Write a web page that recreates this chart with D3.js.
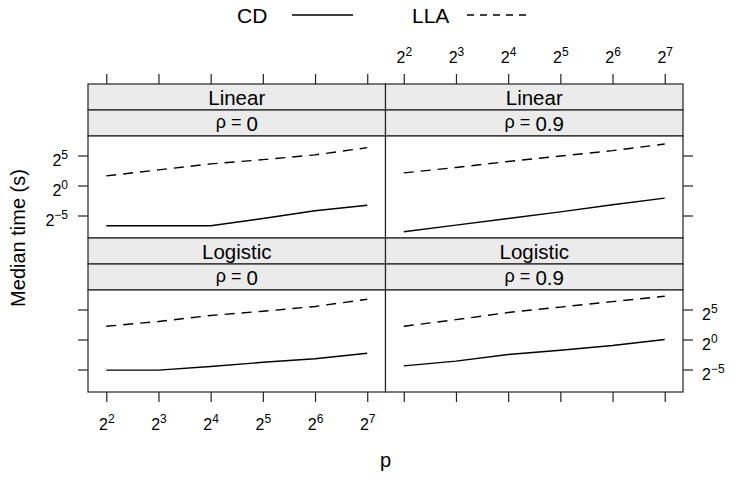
<!DOCTYPE html>
<html>
<head>
<meta charset="utf-8">
<script src="https://cdn.jsdelivr.net/npm/d3@7"></script>
<style>
body { margin: 0; background: #fff; }
text { font-family: "Liberation Sans", Arial, Helvetica, sans-serif; fill: #000; }
</style>
</head>
<body>
<div id="svg-container"></div>
<script>
// Data ------------------------------------------------------------------------------------------------------
const pValues = [4, 8, 16, 32, 64, 128];
const timeTicks = [1 / 32, 1, 32];
const methods = ["CD", "LLA"];
const panelModels = ["Linear", "Linear", "Logistic", "Logistic"];
const panelRhos = ["0", "0.9", "0", "0.9"];

// median time (s), one row per panel, in pValues order
const cdTimes = [
  [0.0096, 0.0096, 0.0096, 0.0221, 0.0544, 0.1015],
  [0.0048, 0.0103, 0.0221, 0.0474, 0.109, 0.233],
  [0.0292, 0.0292, 0.0442, 0.0718, 0.109, 0.203],
  [0.0474, 0.0825, 0.177, 0.287, 0.5, 1.0]
];
const llaTimes = [
  [3.03, 6.06, 12.1, 19.7, 34.3, 78.8],
  [4.29, 8.0, 16.0, 29.9, 55.7, 119.4],
  [4.59, 8.0, 16.0, 26.0, 45.3, 104],
  [4.59, 9.85, 22.6, 42.2, 78.8, 147]
];

// Graph Dimensions ------------------------------------------------------------------------------------------
const width = 734,
      height = 478;
const frame = {left: 88, right: 683, top: 84},
      stripH = 26,
      panelH = 102,
      panelW = (frame.right - frame.left) / 2,
      rowH = 2 * stripH + panelH;
const tickLen = 10;
const tickFont = 16, supFont = 12;

// SVG -------------------------------------------------------------------------------------------------------
const svg = d3.select("#svg-container")
.append("svg")
.attr("width", width)
.attr("height", height);

// Scales ----------------------------------------------------------------------------------------------------
const padLog = (lo, hi) => {
  const a = Math.log2(lo), b = Math.log2(hi), p = (b - a) * 0.07;
  return [Math.pow(2, a - p), Math.pow(2, b + p)];
};

const x = d3.scaleLog().base(2)
.domain(padLog(d3.min(pValues), d3.max(pValues)))
.range([0, panelW]);

const allTimes = cdTimes.flat().concat(llaTimes.flat());
const y = d3.scaleLog().base(2)
.domain(padLog(d3.min(allTimes), d3.max(allTimes)))
.range([panelH, 0]);

// 2^k style tick labels
const powerLabel = (sel, yOff) => {
  sel.text(null).attr("dy", null).attr("y", yOff).attr("font-size", tickFont).each(function(d) {
    const e = Math.round(Math.log2(d));
    const t = d3.select(this);
    t.append("tspan").text("2");
    t.append("tspan").attr("font-size", supFont).attr("dy", -7).text(String(e).replace("-", "\u2212"));
  });
};

const line = d3.line()
.x((d, i) => x(pValues[i]))
.y(d => y(d));

// Panels ----------------------------------------------------------------------------------------------------
panelModels.forEach((model, k) => {
  const col = k % 2, row = Math.floor(k / 2);
  const left = frame.left + col * panelW;
  const top = frame.top + row * rowH;
  const pTop = top + 2 * stripH;

  // strips
  [model, null].forEach((lab, s) => {
    const sg = svg.append("g").attr("transform", `translate(${left},${top + s * stripH})`);
    sg.append("rect")
    .attr("width", panelW).attr("height", stripH)
    .attr("fill", "#ebebeb").attr("stroke", "#222").attr("stroke-width", 1.2);
    const t = sg.append("text")
    .attr("x", panelW / 2).attr("y", 21)
    .attr("text-anchor", "middle")
    .attr("font-size", 20.5);
    if (lab) t.text(lab);
    else {
      t.append("tspan").attr("font-size", 18).attr("dy", -3).text("\u03c1 = ");
      t.append("tspan").attr("dy", 3).text(panelRhos[k]);
    }
  });

  // panel body
  const g = svg.append("g").attr("transform", `translate(${left},${pTop})`);
  g.append("rect")
  .attr("width", panelW).attr("height", panelH)
  .attr("fill", "#fff").attr("stroke", "#222").attr("stroke-width", 1.2);

  g.append("path")
  .datum(cdTimes[k])
  .attr("d", line)
  .attr("fill", "none").attr("stroke", "#000").attr("stroke-width", 1.4);

  g.append("path")
  .datum(llaTimes[k])
  .attr("d", line)
  .attr("fill", "none").attr("stroke", "#000").attr("stroke-width", 1.4)
  .attr("stroke-dasharray", "10,7");

  // Axes ----------------------------------------------------------------------------------------------------
  if (row === 0) {
    const ax = svg.append("g")
    .attr("transform", `translate(${left},${top})`)
    .call(d3.axisTop(x).tickValues(pValues).tickSize(tickLen).tickSizeOuter(0));
    ax.select(".domain").remove();
    if (col === 1) powerLabel(ax.selectAll(".tick text"), -21);
    else ax.selectAll(".tick text").remove();
  } else {
    const ax = svg.append("g")
    .attr("transform", `translate(${left},${pTop + panelH})`)
    .call(d3.axisBottom(x).tickValues(pValues).tickSize(tickLen).tickSizeOuter(0));
    ax.select(".domain").remove();
    if (col === 0) powerLabel(ax.selectAll(".tick text"), 38);
    else ax.selectAll(".tick text").remove();
  }

  if (col === 0) {
    const ay = svg.append("g")
    .attr("transform", `translate(${left},${pTop})`)
    .call(d3.axisLeft(y).tickValues(timeTicks).tickSize(tickLen).tickSizeOuter(0));
    ay.select(".domain").remove();
    if (row === 0) powerLabel(ay.selectAll(".tick text").attr("x", -20), 10);
    else ay.selectAll(".tick text").remove();
  } else {
    const ay = svg.append("g")
    .attr("transform", `translate(${left + panelW},${pTop})`)
    .call(d3.axisRight(y).tickValues(timeTicks).tickSize(tickLen).tickSizeOuter(0));
    ay.select(".domain").remove();
    if (row === 1) powerLabel(ay.selectAll(".tick text").attr("x", 19), 10);
    else ay.selectAll(".tick text").remove();
  }
});

svg.selectAll(".tick line").attr("stroke", "#222").attr("stroke-width", 1.2);

// Axis Titles -----------------------------------------------------------------------------------------------
svg.append("text")
.attr("transform", `translate(25,${frame.top + rowH}) rotate(-90)`)
.attr("text-anchor", "middle")
.attr("font-size", 20)
.text("Median time (s)");

svg.append("text")
.attr("x", frame.left + panelW).attr("y", 467)
.attr("text-anchor", "middle")
.attr("font-size", 20)
.text("p");

// Legend ----------------------------------------------------------------------------------------------------
const legendX = [237, 412];
methods.forEach((m, i) => {
  const lg = svg.append("g").attr("transform", `translate(${legendX[i]},0)`);
  lg.append("text").attr("x", 0).attr("y", 23).attr("font-size", 21).text(m);
  lg.append("line")
  .attr("x1", 55).attr("x2", 116).attr("y1", 15).attr("y2", 15)
  .attr("stroke", "#000").attr("stroke-width", 1.4)
  .attr("stroke-dasharray", i === 1 ? "7,6" : null);
});
</script>
</body>
</html>
